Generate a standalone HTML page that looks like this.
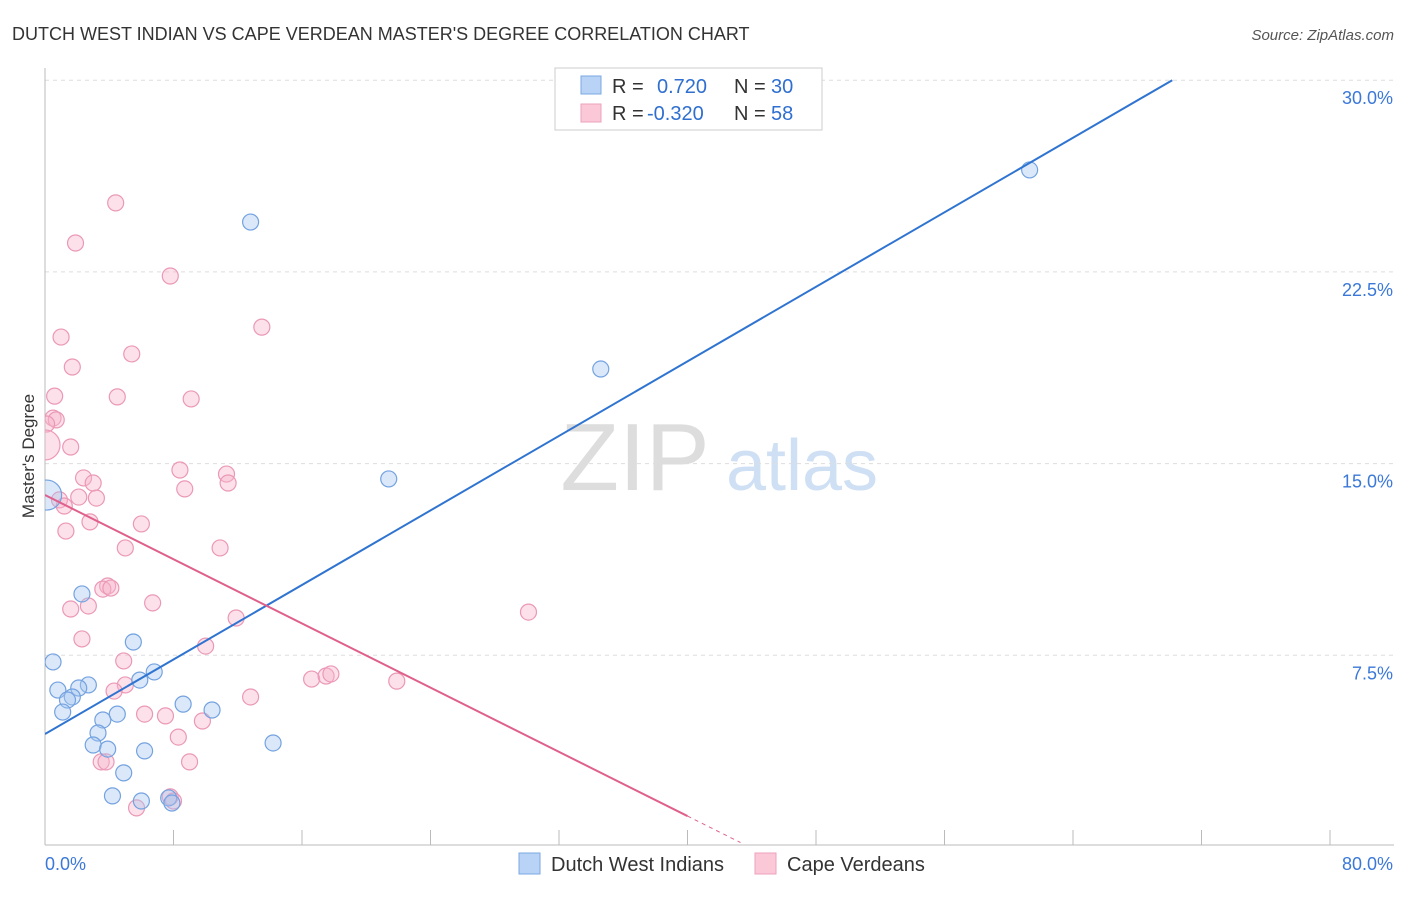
<!DOCTYPE html>
<html><head><meta charset="utf-8"><style>
body{margin:0;background:#fff;font-family:"Liberation Sans",sans-serif}
svg text{font-family:"Liberation Sans",sans-serif}
</style></head><body>
<svg id="chart" width="1406" height="892" xmlns="http://www.w3.org/2000/svg">
<defs><clipPath id="plotclip"><rect x="45" y="60" width="1360" height="786"/></clipPath></defs>
<text x="12" y="40" font-size="18" fill="#333">DUTCH WEST INDIAN VS CAPE VERDEAN MASTER'S DEGREE CORRELATION CHART</text>
<text x="1394" y="40" font-size="15" fill="#555" text-anchor="end" font-style="italic">Source: ZipAtlas.com</text>
<g>
<text x="635" y="490" font-size="96" fill="#ddd" text-anchor="middle" font-family="Liberation Serif">ZIP</text>
<text x="802" y="490" font-size="72" fill="#cfe0f5" text-anchor="middle">atlas</text>
</g>
<g id="grid"></g>
<g id="axes"></g>
<g id="marks" clip-path="url(#plotclip)"></g>
<text transform="translate(34,456) rotate(-90)" font-size="17" fill="#333" text-anchor="middle">Master's Degree</text>
<g>
<rect x="555" y="68" width="267" height="62" fill="#fff" stroke="#ccc"/>
<rect x="581" y="76" width="20" height="18" fill="#b8d3f5" stroke="#7aa8e4"/>
<rect x="581" y="104" width="20" height="18" fill="#fbc8d8" stroke="#eea2bc"/>
<text x="612" y="93" font-size="20" fill="#333">R = <tspan x="657" fill="#2f6fd0">0.720</tspan><tspan x="734" fill="#333">N = </tspan><tspan x="771" fill="#2f6fd0">30</tspan></text>
<text x="612" y="120" font-size="20" fill="#333">R = <tspan x="647" fill="#2f6fd0">-0.320</tspan><tspan x="734" fill="#333">N = </tspan><tspan x="771" fill="#2f6fd0">58</tspan></text>
</g>
<g>
<rect x="519" y="853" width="21" height="21" fill="#b8d3f5" stroke="#7aa8e4"/>
<text x="551" y="871" font-size="20" fill="#333">Dutch West Indians</text>
<rect x="755" y="853" width="21" height="21" fill="#fbc8d8" stroke="#eea2bc"/>
<text x="787" y="871" font-size="20" fill="#333">Cape Verdeans</text>
</g>
</svg>
<script>
const yTicks=[7.5,15,22.5,30];
const yTickLabels=["7.5%","15.0%","22.5%","30.0%"];
const xTickCount=10;
const blueX=[12.8,61.3,34.6,21.4,2.3,0.5,5.5,6.8,5.9,0.8,2.7,2.1,1.7,1.4,1.1,4.5,3.6,8.6,10.4,3.3,3.0,3.9,6.2,14.2,4.9,4.2,6.0,7.7,7.9,0.1];
const blueY=[24.45,26.49,18.70,14.40,9.90,7.24,8.02,6.85,6.53,6.14,6.34,6.22,5.87,5.75,5.28,5.20,4.97,5.59,5.36,4.46,3.99,3.83,3.76,4.07,2.90,2.00,1.80,1.92,1.72,13.77];
const pinkX=[4.4,1.9,7.8,13.5,1.0,5.4,1.7,0.6,4.5,9.1,0.5,0.7,0.1,1.6,0.0,8.4,11.3,2.4,3.0,11.4,8.7,2.1,3.2,0.9,1.2,2.8,6.0,1.3,5.0,10.9,3.9,3.6,4.1,6.7,1.6,2.7,30.1,11.9,2.3,10.0,4.9,5.0,4.3,16.6,17.5,17.8,21.9,12.8,6.2,7.5,9.8,8.3,3.5,3.8,9.0,7.8,8.0,5.7];
const pinkY=[25.20,23.63,22.34,20.34,19.95,19.29,18.78,17.64,17.61,17.53,16.78,16.71,16.55,15.65,15.73,14.75,14.59,14.44,14.24,14.24,14.01,13.69,13.65,13.58,13.34,12.72,12.64,12.36,11.70,11.70,10.21,10.09,10.13,9.55,9.31,9.43,9.19,8.96,8.14,7.86,7.28,6.34,6.10,6.57,6.69,6.77,6.49,5.87,5.20,5.13,4.93,4.30,3.33,3.33,3.33,1.96,1.80,1.53];
const blueTrend=[4.42,0.3645];
const pinkTrend=[13.77,-0.314];
const pinkSolidEnd=40, pinkDashEnd=43.3;

const NS="http://www.w3.org/2000/svg";
const X0=45,XS=1285/80,Y0=847,YS=191.7/7.5;
const sx=v=>X0+v*XS, sy=v=>Y0-v*YS;
function mk(tag,attrs,parent){const e=document.createElementNS(NS,tag);for(const k in attrs)e.setAttribute(k,attrs[k]);document.getElementById(parent).appendChild(e);return e;}
yTicks.forEach((t,i)=>{
 const l=mk('line',{x1:45,x2:1394,y1:sy(t),y2:sy(t),stroke:'#ddd','stroke-dasharray':'4,4'},'grid');
 
 
 const tx=mk('text',{x:1393,y:sy(t)+24,'font-size':18,fill:'#3b78d8','text-anchor':'end'},'grid');
 tx.textContent=yTickLabels[i];
 
 
});
let a=mk('line',{x1:45,x2:45,y1:68,y2:845,stroke:'#bbb'},'axes');


a=mk('line',{x1:45,x2:1394,y1:845,y2:845,stroke:'#bbb'},'axes');


for(let i=0;i<=xTickCount;i++){const x=sx(i*8);const t=mk('line',{x1:x,x2:x,y1:830,y2:845,stroke:'#bbb'},'axes');
 
 }
let xl=mk('text',{x:45,y:870,'font-size':18,fill:'#3b78d8'},'axes');xl.textContent='0.0%';


xl=mk('text',{x:1393,y:870,'font-size':18,fill:'#3b78d8','text-anchor':'end'},'axes');xl.textContent='80.0%';


pinkX.forEach((x,i)=>{const c=mk('circle',{cx:sx(x),cy:sy(pinkY[i]),r:(x<0.2&&pinkY[i]>15.7&&pinkY[i]<15.8)?15:8,fill:'rgba(248,180,202,0.4)',stroke:'#eb98b6','stroke-width':1.2},'marks');
 
 });
blueX.forEach((x,i)=>{const c=mk('circle',{cx:sx(x),cy:sy(blueY[i]),r:(i===blueX.length-1)?15:8,fill:'rgba(164,198,240,0.4)',stroke:'#73a2e0','stroke-width':1.2},'marks');
 
 });
const bEnd=(30-blueTrend[0])/blueTrend[1];
let tl=mk('line',{x1:sx(0),y1:sy(blueTrend[0]),x2:sx(bEnd),y2:sy(30),stroke:'#2f74d0','stroke-width':2},'marks');


tl=mk('line',{x1:sx(0),y1:sy(pinkTrend[0]),x2:sx(pinkSolidEnd),y2:sy(pinkTrend[0]+pinkTrend[1]*pinkSolidEnd),stroke:'#e0608c','stroke-width':2},'marks');


tl=mk('line',{x1:sx(pinkSolidEnd),y1:sy(pinkTrend[0]+pinkTrend[1]*pinkSolidEnd),x2:sx(pinkDashEnd),y2:sy(pinkTrend[0]+pinkTrend[1]*pinkDashEnd),stroke:'#e0608c','stroke-width':1,'stroke-dasharray':'4,4'},'marks');


</script>
</body></html>
